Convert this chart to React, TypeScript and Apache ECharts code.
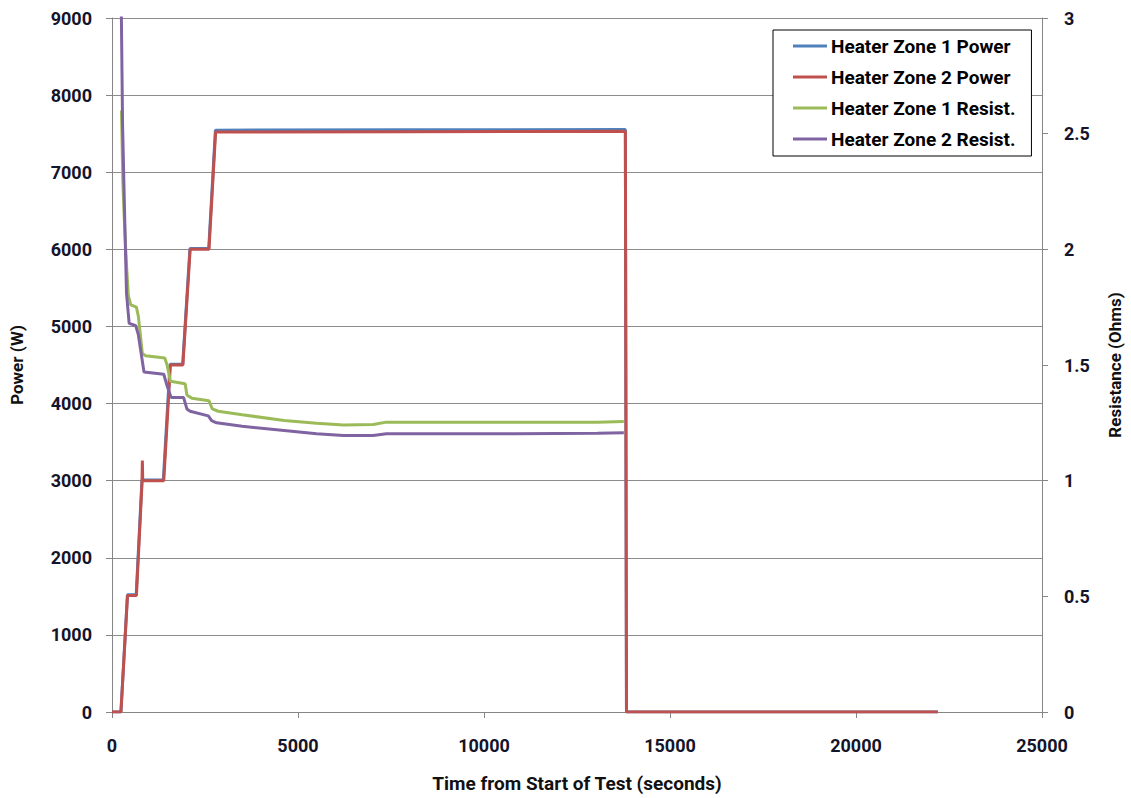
import React, { useEffect, useRef } from "react";
import * as echarts from "echarts";

const xTicks = [0, 5000, 10000, 15000, 20000, 25000];
const powerTicks = [0, 1000, 2000, 3000, 4000, 5000, 6000, 7000, 8000, 9000];
const resistTicks = [0, 0.5, 1, 1.5, 2, 2.5, 3];

const seriesNames = [
  "Heater Zone 1 Power",
  "Heater Zone 2 Power",
  "Heater Zone 1 Resist.",
  "Heater Zone 2 Resist.",
];

// [time (s), power (W)]
const zone1Power: [number, number][] = [
  [0, 0], [240, 0], [415, 1520], [650, 1520], [805, 3010], [1380, 3010],
  [1560, 4510], [1900, 4510], [2095, 6010], [2600, 6010], [2780, 7545],
  [8000, 7550], [13800, 7555], [13830, 0], [22200, 0],
];
const zone2Power: [number, number][] = [
  [0, 0], [240, 0], [417, 1510], [656, 1510], [805, 2950], [816, 3260],
  [826, 3000], [1392, 3000], [1570, 4500], [1906, 4500], [2101, 6000],
  [2607, 6000], [2785, 7520], [8000, 7525], [13800, 7530], [13830, 0],
  [22200, 0],
];
// [time (s), resistance (Ohms)]
const zone1Resist: [number, number][] = [
  [255, 2.6], [290, 2.3], [328, 2.14], [390, 1.93], [440, 1.8], [505, 1.76],
  [656, 1.75], [709, 1.71], [816, 1.55], [904, 1.54], [1419, 1.53],
  [1481, 1.5], [1570, 1.43], [1924, 1.42], [1968, 1.418], [2013, 1.37],
  [2147, 1.356], [2607, 1.345], [2696, 1.31], [2855, 1.3], [3500, 1.285],
  [4628, 1.26], [5500, 1.248], [6224, 1.241], [7022, 1.243], [7376, 1.253],
  [10826, 1.252], [13052, 1.252], [13760, 1.256],
];
const zone2Resist: [number, number][] = [
  [232, 3.3], [284, 2.54], [354, 2.05], [390, 1.81], [461, 1.68],
  [638, 1.67], [709, 1.63], [860, 1.47], [1392, 1.46], [1481, 1.41],
  [1588, 1.36], [1924, 1.36], [2013, 1.31], [2101, 1.3], [2589, 1.28],
  [2678, 1.26], [2811, 1.25], [3500, 1.235], [4628, 1.217], [5500, 1.203],
  [6224, 1.195], [7022, 1.195], [7376, 1.203], [10826, 1.203],
  [13052, 1.205], [13760, 1.207],
];

const colors = ["#4F81BD", "#C0504D", "#9BBB59", "#8064A2"];

export default function App() {
  const ref = useRef<HTMLDivElement>(null);
  useEffect(() => {
    if (!ref.current) return;
    const chart = echarts.init(ref.current, undefined, { renderer: "svg" });
    const tickFont = {
      fontFamily: "Roboto, 'Noto Sans', sans-serif",
      fontWeight: "bold" as const,
      fontSize: 18,
      color: "#14142a",
    };
    const titleFont = {
      fontFamily: "Roboto, 'Noto Sans', sans-serif",
      fontWeight: "bold" as const,
      fontSize: 17,
      color: "#111",
    };
    const fmt = (v: number) => String(v);
    const mk = (i: number, data: [number, number][], yAxisIndex: number) => ({
      name: seriesNames[i],
      type: "line",
      data,
      yAxisIndex,
      showSymbol: false,
      symbol: "none",
      clip: true,
      lineStyle: { color: colors[i], width: 3 },
      itemStyle: { color: colors[i] },
      z: 2 + i,
    });
    chart.setOption({
      animation: false,
      backgroundColor: "#fff",
      grid: { left: 106, right: 85, top: 18, bottom: 84 },
      legend: {
        orient: "vertical",
        left: 773,
        top: 30,
        padding: [6, 16, 7, 20],
        icon: "rect",
        itemWidth: 34,
        itemHeight: 3,
        itemGap: 11,
        backgroundColor: "#fff",
        borderColor: "#000",
        borderWidth: 1,
        borderRadius: 0,
        textStyle: {
          fontFamily: "Roboto, 'Noto Sans', sans-serif",
          fontWeight: "bold",
          fontSize: 19,
          lineHeight: 20,
          color: "#000",
          padding: [0, 0, 0, -1],
        },
        data: seriesNames,
      },
      xAxis: {
        type: "value",
        min: xTicks[0],
        max: xTicks[xTicks.length - 1],
        interval: 5000,
        name: "Time from Start of Test (seconds)",
        nameLocation: "middle",
        nameGap: 62,
        nameTextStyle: { ...titleFont, fontSize: 19 },
        axisLine: { show: true, lineStyle: { color: "#868686", width: 1 } },
        axisTick: { show: true, length: 6, inside: false, lineStyle: { color: "#868686" } },
        splitLine: { show: false },
        axisLabel: { ...tickFont, margin: 24, formatter: fmt },
      },
      yAxis: [
        {
          type: "value",
          min: powerTicks[0],
          max: powerTicks[powerTicks.length - 1],
          interval: 1000,
          name: "Power (W)",
          nameLocation: "middle",
          nameGap: 87,
          nameTextStyle: titleFont,
          axisLine: { show: true, lineStyle: { color: "#868686", width: 1 } },
          axisTick: { show: true, length: 6, lineStyle: { color: "#868686" } },
          splitLine: { show: true, lineStyle: { color: "#8c8c8c", width: 1 } },
          axisLabel: { ...tickFont, margin: 20, formatter: fmt },
        },
        {
          type: "value",
          min: resistTicks[0],
          max: resistTicks[resistTicks.length - 1],
          interval: 0.5,
          name: "Resistance (Ohms)",
          nameLocation: "middle",
          nameGap: 64,
          nameTextStyle: titleFont,
          axisLine: { show: true, lineStyle: { color: "#868686", width: 1 } },
          axisTick: { show: true, length: 6, lineStyle: { color: "#868686" } },
          splitLine: { show: false },
          axisLabel: { ...tickFont, margin: 22, formatter: fmt },
        },
      ],
      series: [
        mk(0, zone1Power, 0),
        mk(1, zone2Power, 0),
        mk(2, zone1Resist, 1),
        mk(3, zone2Resist, 1),
      ],
    });
    return () => chart.dispose();
  }, []);
  return (
    <div
      ref={ref}
      style={{ position: "absolute", left: 0, top: 0, width: 1131, height: 798 }}
    />
  );
}
